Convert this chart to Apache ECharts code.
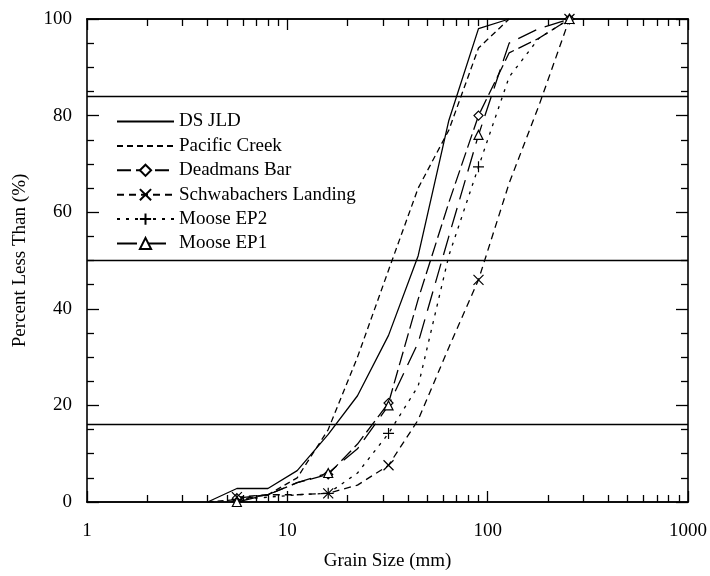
<!DOCTYPE html>
<html>
<head>
<meta charset="utf-8">
<script src="https://cdn.jsdelivr.net/npm/echarts@6/dist/echarts.min.js"></script>
<style>html,body{margin:0;padding:0;background:#fff}#c{width:710px;height:576px}</style>
</head>
<body>
<div id="c"></div>
<script>
// Grain size distributions (grain size mm, percent less than)
const dsJld = [[4,0],[5.6,2.8],[8,2.8],[11.2,6.5],[16,14],[22.4,22],[32,34.5],[45,51],[64,79],[90,98],[128,100]];
const pacificCreek = [[4,0],[5.6,0.5],[8,1.5],[11.2,5],[16,15],[22.4,30],[32,48],[45,65],[64,77],[90,94],[128,100]];
const deadmansBar = [[5.6,0.8],[8,1.5],[11.2,4],[16,5.7],[22.4,12],[32,20.5],[45,42],[64,62],[90,80],[128,93],[180,96],[256,100]];
const schwabachers = [[5.6,1],[8,1.5],[11.2,1.5],[16,1.8],[22.4,3.5],[32,7.6],[45,17],[64,32],[90,46],[128,66],[180,82],[256,100]];
const mooseEP2 = [[5.6,0.5],[8,1],[11.2,1.5],[16,1.8],[22.4,6],[32,14.2],[45,24],[64,51],[90,69.4],[128,88],[180,96],[256,100]];
const mooseEP1 = [[5.6,0],[8,1.5],[11.2,4],[16,6],[22.4,11],[32,20],[45,33],[64,55],[90,76],[128,95],[180,98],[256,100]];
const markerSizes = [5.6, 16, 32, 90, 256];
const refLines = [16, 50, 84];
const xMajorTicks = [1, 10, 100, 1000];
const xMinorTicks = [2,3,4,5,6,7,8,9,20,30,40,50,60,70,80,90,200,300,400,500,600,700,800,900];

const FONT = 'Liberation Serif';
const FS = 19;
const chart = echarts.init(document.getElementById('c'), null, {renderer:'canvas'});

function withMarkers(arr){
  return arr.map(p => markerSizes.indexOf(p[0]) >= 0 ? {value:p} : {value:p, symbol:'none'});
}
const xPath = 'path://M0,0L10,10M10,0L0,10';
const plusPath = 'path://M5,0L5,10M0,5L10,5';

function lineSeries(name, data, dash, symbol, size, markers){
  return {
    name, type:'line', data: markers ? withMarkers(data) : data,
    xAxisIndex:0, yAxisIndex:0,
    symbol: symbol || 'none', symbolSize: size || 8, showSymbol: !!symbol,
    lineStyle:{color:'#000', width:1.3, type: dash},
    itemStyle:{color:'#fff', borderColor:'#000', borderWidth:1.2},
    emphasis:{disabled:true}, animation:false, z:3
  };
}

const series = [
  lineSeries('DS JLD', dsJld, 'solid'),
  lineSeries('Pacific Creek', pacificCreek, [6,4]),
  lineSeries('Deadmans Bar', deadmansBar, [14,5], 'diamond', 9, true),
  lineSeries('Schwabachers Landing', schwabachers, [7,5], xPath, 10, true),
  lineSeries('Moose EP2', mooseEP2, [3,6], plusPath, 11, true),
  lineSeries('Moose EP1', mooseEP1, [20,9], 'triangle', 9, true)
];
series[0].markLine = {
  silent:true, symbol:['none','none'], label:{show:false}, animation:false,
  lineStyle:{color:'#000', width:1.4, type:'solid'},
  data: refLines.map(v => ({yAxis:v}))
};

const axisLineStyle = {show:true, lineStyle:{color:'#000', width:1.6}};
function xAx(pos, major, labels){
  return {
    type:'log', logBase:10, min:1, max:1000, position:pos,
    axisLine: axisLineStyle,
    axisTick:{show:true, inside:true, length: major?11:7, lineStyle:{color:'#000', width:1.3},
      customValues: major ? xMajorTicks : xMinorTicks},
    axisLabel:{show:labels, fontFamily:FONT, fontSize:FS, color:'#000', margin:20,
      customValues: xMajorTicks, formatter: v => String(Math.round(v))},
    splitLine:{show:false}, minorTick:{show:false},
    name: labels ? 'Grain Size (mm)' : '', nameLocation:'middle', nameGap:50,
    nameTextStyle:{fontFamily:FONT, fontSize:FS, color:'#000'}
  };
}
function yAx(pos, labels){
  return {
    type:'value', min:0, max:100, interval:20, position:pos,
    axisLine: axisLineStyle,
    axisTick:{show:true, inside:true, length:12, lineStyle:{color:'#000', width:1.3}},
    minorTick:{show:true, splitNumber:4, length:7, lineStyle:{color:'#000', width:1.3}},
    axisLabel:{show:labels, fontFamily:FONT, fontSize:FS, color:'#000', margin:15},
    splitLine:{show:false},
    name: labels ? 'Percent Less Than (%)' : '', nameLocation:'middle', nameGap:57, nameRotate:90,
    nameTextStyle:{fontFamily:FONT, fontSize:FS, color:'#000'}
  };
}

const legendData = series.map(s => s.symbol === 'none'
  ? {name:s.name, itemStyle:{opacity:0}}
  : {name:s.name});

chart.setOption({
  backgroundColor:'#fff',
  animation:false,
  grid:{left:87, right:20, top:19, bottom:70, containLabel:false},
  legend:{
    orient:'vertical', left:111, top:107, itemWidth:57, itemHeight:14, itemGap:5.4,
    textStyle:{fontFamily:FONT, fontSize:FS, color:'#000'},
    data: legendData, selectedMode:false
  },
  xAxis:[xAx('bottom', true, true), xAx('bottom', false, false), xAx('top', true, false), xAx('top', false, false)],
  yAxis:[yAx('left', true), yAx('right', false)],
  series
});
</script>
</body>
</html>
